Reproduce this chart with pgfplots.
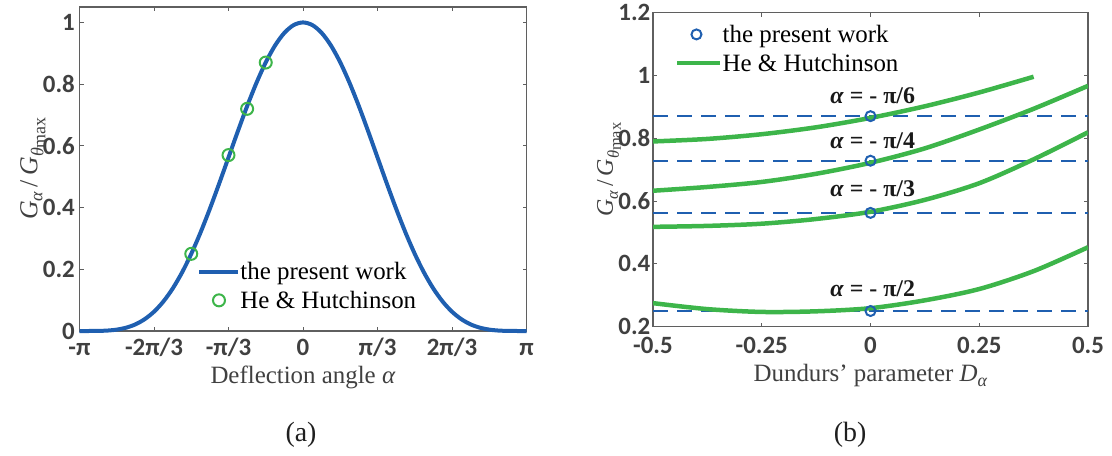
\documentclass[border=0pt]{standalone}
\usepackage{fontspec}
\setmainfont{Liberation Serif}
\newfontfamily\tickfont{Carlito}
\usepackage{pgfplots}
\usepackage{pgfplotstable}
\pgfplotsset{compat=1.18}

\definecolor{curveblue}{RGB}{31,95,176}
\definecolor{hhgreen}{RGB}{61,181,74}
\definecolor{axisgray}{RGB}{95,95,95}
\definecolor{textgray}{RGB}{64,64,64}

% G_alpha / G_theta_max, cos^4(alpha/2) sampled every pi/24
\pgfplotstableread{
k    g
-24  0.0000
-23  0.0000
-22  0.0003
-21  0.0014
-20  0.0045
-19  0.0107
-18  0.0214
-17  0.0383
-16  0.0625
-15  0.0953
-14  0.1373
-13  0.1890
-12  0.2500
-11  0.3195
-10  0.3962
-9   0.4780
-8   0.5625
-7   0.6470
-6   0.7286
-5   0.8040
-4   0.8705
-3   0.9253
-2   0.9662
-1   0.9915
0    1.0000
1    0.9915
2    0.9662
3    0.9253
4    0.8705
5    0.8040
6    0.7286
7    0.6470
8    0.5625
9    0.4780
10   0.3962
11   0.3195
12   0.2500
13   0.1890
14   0.1373
15   0.0953
16   0.0625
17   0.0383
18   0.0214
19   0.0107
20   0.0045
21   0.0014
22   0.0003
23   0.0000
24   0.0000
}\presentcurve

% #1 main size, #2 subscript size
\newcommand\Gratio[2]{\fontsize{#1}{#1}\selectfont\textit{G}\raisebox{-5bp}{\fontsize{#2}{#2}\selectfont\textit{α}}\,/\,\textit{G}\raisebox{-6bp}{\fontsize{#2}{#2}\selectfont\textit{θ}\raisebox{-2bp}{max}}}

\pgfplotsset{
  legline/.style={legend image code/.code={\draw[##1] (0bp,0bp) -- (#1,0bp);}},
  legmark/.style={legend image code/.code={\draw[##1] plot coordinates {(#1,0bp)};}},
  panel/.style={
    scale only axis,
    clip mode=individual,
    axis line style={axisgray, line width=1.2bp},
    every tick/.style={axisgray, line width=1bp},
    major tick length=4bp,
    tick label style={font=\tickfont\bfseries\fontsize{25}{25}\selectfont, text=textgray, inner sep=1.5bp},
    /pgf/number format/assume math mode=true,
    label style={font=\rmfamily\fontsize{25}{25}\selectfont, text=textgray},
    ylabel style={anchor=base west, inner sep=0pt},
    legend style={draw=none, fill=none, font=\rmfamily\fontsize{25}{27}\selectfont, text=black,
      inner sep=0pt, row sep=8bp,
      nodes={inner xsep=0pt, inner ysep=1bp},
      /tikz/every even column/.append style={column sep=11bp}},
    legend cell align=left,
  },
}

\begin{document}
\begin{tikzpicture}
\useasboundingbox (0,0) rectangle (1112bp,456bp);

% ---------- (a) ----------
\begin{axis}[panel,
  at={(79.5bp,125bp)}, anchor=south west,
  width=447bp, height=324bp,
  xmin=-24, xmax=24, ymin=0, ymax=1.05,
  xtick={-24,-16,-8,0,8,16,24},
  xticklabels={-π,-2π/3,-π/3,0,π/3,2π/3,π},
  xticklabel style={anchor=base, yshift=-24bp},
  yticklabel style={inner xsep=4.5bp},
  ytick={0,0.2,0.4,0.6,0.8,1},
  clip=false,
  xlabel={Deflection angle \textit{α}},
  xlabel style={at={(axis description cs:0.5,-0.1614)}, anchor=base},
  ylabel={\Gratio{26}{18}},
  ylabel style={at={(axis description cs:-0.094,0.3426)}},
  legend style={at={(axis description cs:0.2635,0.139)}, anchor=west},
]
\addplot[curveblue, line width=4bp, smooth, legline=39bp]
  table[x=k, y=g] {\presentcurve};
\addlegendentry{the present work}
\addplot[only marks, mark=o, mark size=6bp, hhgreen, line width=2bp, legmark=19.5bp]
  coordinates {(-12,0.25) (-8,0.57) (-6,0.72) (-4,0.87)};
\addlegendentry{He \& Hutchinson}
\node[anchor=base, font=\rmfamily\fontsize{28}{28}\selectfont, text=black!88]
  at (axis description cs:0.4955,-0.3417) {(a)};
\end{axis}

% ---------- (b) ----------
\begin{axis}[panel,
  at={(653bp,129.3bp)}, anchor=south west,
  width=435bp, height=314bp,
  xmin=-0.5, xmax=0.5, ymin=0.2, ymax=1.2,
  xtick={-0.5,-0.25,0,0.25,0.5},
  xticklabels={-0.5,-0.25,0,0.25,0.5},
  xticklabel style={anchor=base, yshift=-27bp},
  yticklabel style={inner xsep=2.5bp},
  ytick={0.2,0.4,0.6,0.8,1,1.2},
  yticklabels={0.2,0.4,0.6,0.8,1,1.2},
  xlabel={Dundurs' parameter \textit{D}\raisebox{-5bp}{\fontsize{18}{18}\selectfont\textit{α}}},
  xlabel style={at={(axis description cs:0.5,-0.175)}, anchor=base},
  ylabel={\Gratio{24}{16.5}},
  ylabel style={at={(axis description cs:-0.092,0.349)}},
  legend style={at={(axis description cs:0.0506,0.885)}, anchor=west},
]
\addlegendimage{only marks, mark=o, mark size=5bp, curveblue, line width=2bp, legmark=19bp}
\addlegendentry{the present work}
\addlegendimage{hhgreen, line width=4.5bp, legline=43bp}
\addlegendentry{He \& Hutchinson}

% reference levels of the present work
\addplot[forget plot, curveblue, line width=2bp, dash pattern=on 15bp off 9bp]
  coordinates {(-0.5,0.8705) (0.5,0.8705)};
\addplot[forget plot, curveblue, line width=2bp, dash pattern=on 15bp off 9bp]
  coordinates {(-0.5,0.7286) (0.5,0.7286)};
\addplot[forget plot, curveblue, line width=2bp, dash pattern=on 15bp off 9bp]
  coordinates {(-0.5,0.5625) (0.5,0.5625)};
\addplot[forget plot, curveblue, line width=2bp, dash pattern=on 15bp off 9bp]
  coordinates {(-0.5,0.25) (0.5,0.25)};

% He & Hutchinson
\addplot[forget plot, hhgreen, line width=4.5bp, smooth] coordinates {
  (-0.5,0.790) (-0.375,0.798) (-0.25,0.813) (-0.125,0.835) (0,0.865)
  (0.125,0.902) (0.25,0.946) (0.375,0.996)};
\addplot[forget plot, hhgreen, line width=4.5bp, smooth] coordinates {
  (-0.5,0.633) (-0.375,0.645) (-0.25,0.661) (-0.125,0.687) (0,0.722)
  (0.125,0.768) (0.25,0.828) (0.375,0.894) (0.5,0.967)};
\addplot[forget plot, hhgreen, line width=4.5bp, smooth] coordinates {
  (-0.5,0.518) (-0.375,0.521) (-0.25,0.528) (-0.125,0.543) (0,0.566)
  (0.125,0.604) (0.25,0.657) (0.375,0.733) (0.5,0.819)};
\addplot[forget plot, hhgreen, line width=4.5bp, smooth] coordinates {
  (-0.5,0.275) (-0.375,0.256) (-0.25,0.247) (-0.125,0.249) (0,0.259)
  (0.125,0.284) (0.25,0.320) (0.375,0.377) (0.5,0.453)};

% the present work
\addplot[forget plot, only marks, mark=o, mark size=5bp, curveblue, line width=2bp]
  coordinates {(0,0.8705) (0,0.7286) (0,0.5625) (0,0.25)};

\begin{scope}[every node/.style={anchor=base, font=\rmfamily\bfseries\fontsize{24}{24}\selectfont, text=black!90}]
\node at (axis cs:0.005,0.911) {\textit{α} = - π/6};
\node at (axis cs:0.005,0.768) {\textit{α} = - π/4};
\node at (axis cs:0.005,0.614) {\textit{α} = - π/3};
\node at (axis cs:0.005,0.2955) {\textit{α} = - π/2};
\end{scope}
\node[anchor=base, font=\rmfamily\fontsize{28}{28}\selectfont, text=black!88]
  at (axis description cs:0.453,-0.366) {(b)};
\end{axis}
\end{tikzpicture}
\end{document}
